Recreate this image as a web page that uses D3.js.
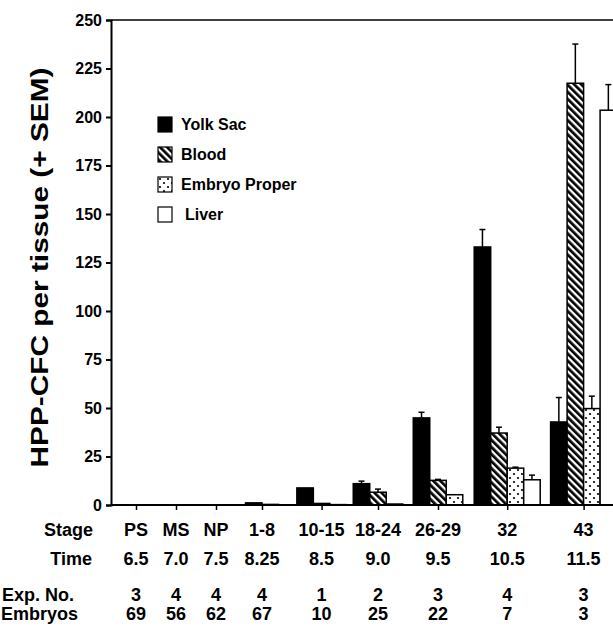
<!DOCTYPE html>
<html>
<head>
<meta charset="utf-8">
<script src="https://cdn.jsdelivr.net/npm/d3@7"></script>
<style>
  body { margin: 0; background: #fff; }
  text { font-family: "Liberation Sans", Arial, Helvetica, sans-serif; font-weight: bold; fill: #000; }
</style>
</head>
<body>
<script>

// ---- data ----
var stages       = ["PS", "MS", "NP", "1-8", "10-15", "18-24", "26-29", "32", "43"];
var times        = ["6.5", "7.0", "7.5", "8.25", "8.5", "9.0", "9.5", "10.5", "11.5"];
var expNo        = [3, 4, 4, 4, 1, 2, 3, 4, 3];
var embryos      = [69, 56, 62, 67, 10, 25, 22, 7, 3];

// null = tissue not measured at that stage
var yolkSac         = [0, 0, 0, 1.1, 8.8, 11.0, 44.9, 133.0, 42.8];
var yolkSacSem      = [0, 0, 0, 0, 0, 1.3, 2.9, 9.0, 12.6];
var blood           = [null, null, null, 0.3, 0.8, 6.6, 12.7, 37.1, 217.4];
var bloodSem        = [null, null, null, 0, 0, 1.6, 0.5, 3.0, 20.2];
var embryoProper    = [null, null, null, null, 0.2, 0.5, 5.3, 19.0, 49.7];
var embryoProperSem = [null, null, null, null, 0, 0, 0, 0.5, 6.4];
var liver           = [null, null, null, null, null, null, null, 13.0, 203.5];
var liverSem        = [null, null, null, null, null, null, null, 2.4, 13.2];

var yTicks       = [0, 25, 50, 75, 100, 125, 150, 175, 200, 225, 250];

var series = [
    {name: "Yolk Sac",      values: yolkSac,      sem: yolkSacSem,      fill: "#000"},
    {name: "Blood",         values: blood,        sem: bloodSem,        fill: "url(#stripes)"},
    {name: "Embryo Proper", values: embryoProper, sem: embryoProperSem, fill: "url(#dots)"},
    {name: "Liver",         values: liver,        sem: liverSem,        fill: "#fff"}
];

// ---- layout ----
var W = 613, H = 629;
var axisX = 111, plotTop = 20, plotBase = 505;
var barW = 16.5;
// stage columns are not evenly spaced in the original; slot units along the axis
var stageSlot = [0, 1, 2, 3.15, 4.64, 6.05, 7.55, 9.28, 11.19];

var svg = d3.select("body").append("svg")
    .attr("width", W)
    .attr("height", H);

var defs = svg.append("defs");

var pStripe = defs.append("pattern")
    .attr("id", "stripes")
    .attr("patternUnits", "userSpaceOnUse")
    .attr("width", 5).attr("height", 5)
    .attr("patternTransform", "rotate(-45)");
pStripe.append("rect").attr("width", 5).attr("height", 5).attr("fill", "#fff");
pStripe.append("rect").attr("width", 2.7).attr("height", 5).attr("fill", "#000");

var pDots = defs.append("pattern")
    .attr("id", "dots")
    .attr("patternUnits", "userSpaceOnUse")
    .attr("width", 8).attr("height", 8);
pDots.append("rect").attr("width", 8).attr("height", 8).attr("fill", "#fff");
pDots.append("circle").attr("cx", 2).attr("cy", 2).attr("r", 1.1).attr("fill", "#000");
pDots.append("circle").attr("cx", 6).attr("cy", 6).attr("r", 1.1).attr("fill", "#000");

var y = d3.scaleLinear().domain([0, 250]).range([plotBase, plotTop]);
var slotX = d3.scaleLinear().domain([0, 1]).range([136, 176]);
var x = d3.scaleOrdinal()
    .domain(stages)
    .range(stageSlot.map(function(s) { return slotX(s); }));

// ---- bars ----
var groups = stages.map(function(st, i) {
    var present = series.filter(function(s) { return s.values[i] !== null; });
    var n = present.length;
    var inner = d3.scaleBand()
        .domain(present.map(function(s) { return s.name; }))
        .range([x(st) - n * barW / 2, x(st) + n * barW / 2])
        .padding(0);
    return present.map(function(s) {
        return {stage: st, name: s.name, fill: s.fill,
                v: s.values[i], sem: s.sem[i],
                x0: inner(s.name), w: inner.bandwidth()};
    });
});
var bars = [].concat.apply([], groups);

var plot = svg.append("g");

plot.selectAll("rect.bar")
    .data(bars)
    .enter().append("rect")
    .attr("class", "bar")
    .attr("x", function(d) { return d.x0; })
    .attr("y", function(d) { return y(d.v); })
    .attr("width", function(d) { return d.w; })
    .attr("height", function(d) { return plotBase - y(d.v); })
    .attr("fill", function(d) { return d.fill; })
    .attr("stroke", "#000")
    .attr("stroke-width", 1.5);

var errs = bars.filter(function(d) { return d.sem > 0; });
plot.selectAll("line.err")
    .data(errs)
    .enter().append("line")
    .attr("class", "err")
    .attr("x1", function(d) { return d.x0 + d.w / 2; })
    .attr("x2", function(d) { return d.x0 + d.w / 2; })
    .attr("y1", function(d) { return y(d.v); })
    .attr("y2", function(d) { return y(d.v + d.sem); })
    .attr("stroke", "#000").attr("stroke-width", 1.5);
plot.selectAll("line.cap")
    .data(errs)
    .enter().append("line")
    .attr("class", "cap")
    .attr("x1", function(d) { return d.x0 + d.w / 2 - 3; })
    .attr("x2", function(d) { return d.x0 + d.w / 2 + 3; })
    .attr("y1", function(d) { return y(d.v + d.sem); })
    .attr("y2", function(d) { return y(d.v + d.sem); })
    .attr("stroke", "#000").attr("stroke-width", 1.5);

// ---- axes ----
var yAxis = svg.append("g")
    .attr("transform", "translate(" + axisX + ",0)")
    .call(d3.axisLeft(y).tickValues(yTicks).tickSize(5).tickPadding(4));
yAxis.select(".domain").attr("stroke-width", 2);
yAxis.selectAll(".tick line").attr("stroke-width", 2);
yAxis.selectAll(".tick text")
    .style("font-size", "16px")
    .style("font-family", "'Liberation Sans', Arial, sans-serif")
    .style("font-weight", "bold");

var xAxis = svg.append("g")
    .attr("transform", "translate(0," + plotBase + ")")
    .call(d3.axisBottom(x).tickSize(5).tickFormat(""));
xAxis.select(".domain").remove();
xAxis.selectAll(".tick line").attr("stroke-width", 1.5);

svg.append("line")
    .attr("x1", axisX).attr("x2", W)
    .attr("y1", plotBase).attr("y2", plotBase)
    .attr("stroke", "#000").attr("stroke-width", 2);
svg.append("line")
    .attr("x1", axisX).attr("x2", W)
    .attr("y1", plotTop).attr("y2", plotTop)
    .attr("stroke", "#000").attr("stroke-width", 1.5);

svg.append("text")
    .attr("transform", "translate(48," + ((plotTop + plotBase) / 2 + 5) + ") rotate(-90)")
    .attr("text-anchor", "middle")
    .attr("textLength", 400)
    .attr("lengthAdjust", "spacingAndGlyphs")
    .style("font-size", "23px")
    .text("HPP-CFC per tissue (+ SEM)");

// ---- legend ----
var legend = svg.append("g").attr("transform", "translate(158,117)");
var li = legend.selectAll("g")
    .data(series)
    .enter().append("g")
    .attr("transform", function(d, i) { return "translate(0," + (i * 30) + ")"; });
li.append("rect")
    .attr("width", 14).attr("height", 15)
    .attr("fill", function(d) { return d.fill; })
    .attr("stroke", "#000").attr("stroke-width", 1.2);
li.append("text")
    .attr("x", function(d, i) { return i == 3 ? 27 : 23; })
    .attr("y", 13)
    .style("font-size", "16px")
    .text(function(d) { return d.name; });

// ---- table under the axis ----
var rows = [
    {label: "Stage",    vals: stages,  y: 536, anchor: "end",   lx: 93},
    {label: "Time",     vals: times,   y: 565, anchor: "end",   lx: 92},
    {label: "Exp. No.", vals: expNo,   y: 601, anchor: "start", lx: 2},
    {label: "Embryos",  vals: embryos, y: 620, anchor: "start", lx: 1}
];
rows.forEach(function(r) {
    svg.append("text")
        .attr("x", r.lx).attr("y", r.y)
        .attr("text-anchor", r.anchor)
        .style("font-size", "18px")
        .text(r.label);
    svg.append("g").selectAll("text")
        .data(r.vals)
        .enter().append("text")
        .attr("x", function(d, i) { return x(stages[i]); })
        .attr("y", r.y)
        .attr("text-anchor", "middle")
        .style("font-size", "18px")
        .text(function(d) { return d; });
});

</script>
</body>
</html>
